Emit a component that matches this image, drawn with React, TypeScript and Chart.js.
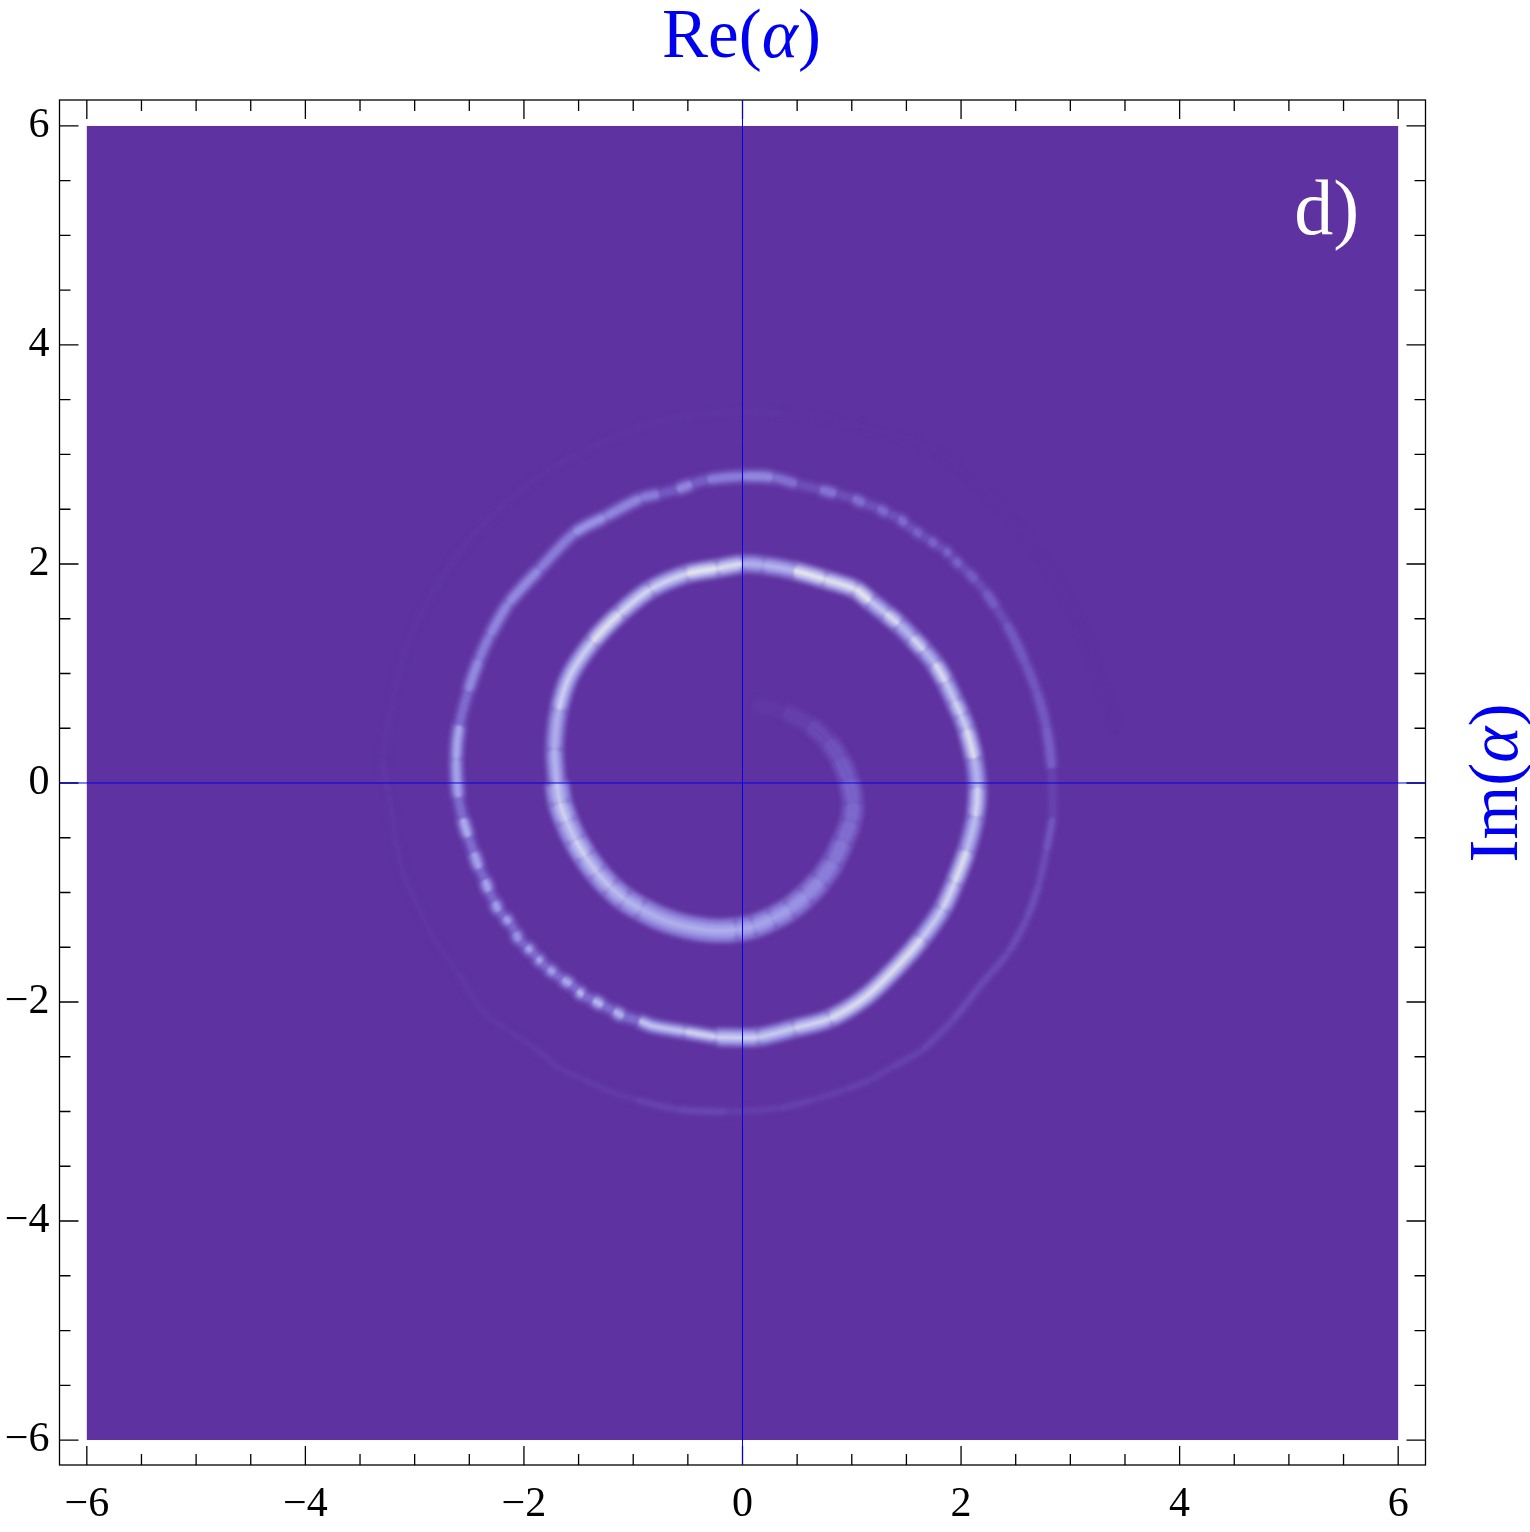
import React, { useEffect, useRef } from "react";
import { Chart, registerables } from "chart.js";

Chart.register(...registerables);

// Tick positions
const axisTicks = [-6, -5.5, -5, -4.5, -4, -3.5, -3, -2.5, -2, -1.5, -1, -0.5, 0, 0.5, 1, 1.5, 2, 2.5, 3, 3.5, 4, 4.5, 5, 5.5, 6];
const labelledTicks = [-6, -4, -2, 0, 2, 4, 6];

// Spiral, turn by turn: x, y, brightness 0..1
const innerX = [0.10, 0.38, 0.61, 0.78, 0.89, 0.97, 1.01, 0.99, 0.92, 0.83, 0.71, 0.58, 0.43, 0.27, 0.10, -0.06, -0.23, -0.42, -0.60, -0.77, -0.93, -1.08, -1.21, -1.33, -1.44, -1.53, -1.61, -1.67, -1.70];
const innerY = [0.71, 0.65, 0.53, 0.38, 0.22, 0.03, -0.18, -0.35, -0.53, -0.72, -0.89, -1.03, -1.15, -1.24, -1.31, -1.34, -1.35, -1.33, -1.29, -1.23, -1.15, -1.06, -0.95, -0.82, -0.67, -0.52, -0.35, -0.18, 0];
const innerL = [0.05, 0.12, 0.2, 0.27, 0.33, 0.38, 0.41, 0.43, 0.47, 0.51, 0.56, 0.6, 0.64, 0.66, 0.68, 0.7, 0.7, 0.7, 0.7, 0.7, 0.72, 0.74, 0.76, 0.78, 0.82, 0.78, 0.82, 0.78, 0.8];

const middleX = [-1.70, -1.72, -1.68, -1.58, -1.37, -1.12, -0.84, -0.51, -0.23, 0, 0.19, 0.47, 0.75, 1.03, 1.17, 1.31, 1.43, 1.55, 1.66, 1.76, 1.86, 1.94, 2.0, 2.05, 2.12, 2.15, 2.13, 2.05, 1.94, 1.83, 1.64, 1.43, 1.13, 0.80, 0.47, 0.14, -0.24];
const middleY = [0, 0.31, 0.67, 0.98, 1.29, 1.55, 1.77, 1.91, 1.96, 2.0, 1.99, 1.94, 1.86, 1.77, 1.66, 1.55, 1.45, 1.33, 1.21, 1.09, 0.92, 0.75, 0.62, 0.49, 0.22, -0.04, -0.31, -0.62, -0.91, -1.15, -1.42, -1.66, -1.95, -2.15, -2.24, -2.32, -2.32];
const middleL = [0.72, 0.7, 0.82, 0.82, 0.92, 0.86, 0.84, 0.95, 0.9, 0.7, 0.72, 0.95, 0.92, 0.95, 0.78, 0.88, 0.72, 0.85, 0.72, 0.88, 0.78, 0.84, 0.8, 0.9, 0.72, 0.85, 0.75, 0.9, 0.85, 0.8, 0.9, 0.9, 0.9, 0.85, 0.8, 0.82, 0.9];

const outerX = [-0.24, -0.53, -0.82, -0.95, -1.09, -1.18, -1.28, -1.37, -1.46, -1.51, -1.57, -1.65, -1.72, -1.78, -1.84, -1.88, -1.93, -1.98, -2.04, -2.08, -2.13, -2.18, -2.23, -2.27, -2.32, -2.36, -2.41, -2.46, -2.51, -2.56, -2.60, -2.62, -2.59, -2.51, -2.41, -2.31, -2.14, -1.86, -1.54, -1.26, -0.93, -0.76, -0.60, -0.46, -0.32, 0, 0.28, 0.5, 0.71, 0.86, 1.01, 1.12, 1.24, 1.33, 1.43, 1.5, 1.57, 1.64, 1.71, 1.78, 1.85, 1.9, 1.94, 2.0, 2.06, 2.14, 2.22, 2.32, 2.41, 2.5, 2.59, 2.69, 2.78, 2.83, 2.84];
const outerY = [-2.32, -2.27, -2.22, -2.17, -2.13, -2.08, -2.03, -1.98, -1.94, -1.89, -1.84, -1.79, -1.74, -1.69, -1.64, -1.59, -1.54, -1.49, -1.44, -1.36, -1.28, -1.22, -1.17, -1.08, -0.99, -0.88, -0.78, -0.63, -0.49, -0.32, -0.13, 0.22, 0.53, 0.84, 1.13, 1.35, 1.64, 1.95, 2.28, 2.43, 2.60, 2.64, 2.68, 2.73, 2.77, 2.80, 2.79, 2.73, 2.68, 2.64, 2.60, 2.55, 2.51, 2.46, 2.42, 2.36, 2.31, 2.26, 2.22, 2.17, 2.13, 2.08, 2.04, 1.98, 1.93, 1.84, 1.75, 1.6, 1.46, 1.29, 1.09, 0.84, 0.51, 0.13, -0.31];
const outerL = [0.85, 0.78, 0.78, 0.42, 0.72, 0.42, 0.74, 0.42, 0.74, 0.42, 0.68, 0.42, 0.64, 0.42, 0.66, 0.42, 0.66, 0.4, 0.6, 0.4, 0.64, 0.4, 0.64, 0.4, 0.66, 0.4, 0.66, 0.42, 0.7, 0.42, 0.66, 0.68, 0.42, 0.56, 0.5, 0.54, 0.56, 0.5, 0.6, 0.54, 0.5, 0.32, 0.54, 0.35, 0.5, 0.55, 0.44, 0.24, 0.46, 0.24, 0.44, 0.26, 0.42, 0.26, 0.42, 0.26, 0.38, 0.24, 0.38, 0.24, 0.38, 0.24, 0.38, 0.24, 0.34, 0.22, 0.34, 0.22, 0.32, 0.32, 0.3, 0.32, 0.36, 0.14, 0.3];

const faintX = [2.84, 2.78, 2.71, 2.60, 2.43, 2.20, 1.92, 1.64, 1.36, 1.17, 0.94, 0.66, 0.33, -0.14, -0.60, -0.98, -1.26, -1.47, -1.68, -1.93, -2.14, -2.37, -2.62, -2.80, -2.98, -3.10, -3.17, -3.24, -3.29, -3.19, -3.03, -2.70, -2.40, -1.86, -1.35, -0.84, -0.32, 0.38, 1.08, 1.78, 2.48, 3.09, 3.41];
const faintY = [-0.31, -0.62, -0.93, -1.24, -1.55, -1.82, -2.17, -2.44, -2.60, -2.71, -2.80, -2.89, -2.97, -3.0, -2.98, -2.89, -2.80, -2.70, -2.60, -2.40, -2.26, -2.09, -1.71, -1.46, -1.11, -0.84, -0.53, -0.09, 0.22, 0.80, 1.37, 1.95, 2.33, 2.80, 3.08, 3.28, 3.37, 3.37, 3.26, 3.02, 2.40, 1.46, 0.49];
const faintL = [0.3, 0.22, 0.24, 0.22, 0.2, 0.2, 0.17, 0.14, 0.12, 0.13, 0.11, 0.13, 0.11, 0.18, 0.14, 0.08, 0.08, 0.07, 0.07, 0.06, 0.05, 0.05, 0.04, 0.04, 0.04, 0.04, 0.04, 0.05, 0.03, 0.03, 0.03, 0.03, 0.03, 0.03, 0.03, 0.03, 0.03, 0.02, 0.015, 0.01, 0.01, 0.005, 0.005];

const PURPLE = "#5E32A0";
const BLUE = "#0000F0";
const SERIF = '"Liberation Serif", serif';

const RAMP: [number, number, number, number][] = [
  [0, 94, 50, 160],
  [0.25, 116, 90, 196],
  [0.5, 155, 150, 230],
  [0.75, 208, 210, 240],
  [1, 246, 240, 226],
];
function ramp(t: number) {
  const v = Math.max(0, Math.min(1, t));
  for (let i = 1; i < RAMP.length; i++) {
    if (v <= RAMP[i][0]) {
      const a = RAMP[i - 1], b = RAMP[i];
      const f = (v - a[0]) / (b[0] - a[0]);
      return `rgb(${a[1] + (b[1] - a[1]) * f},${a[2] + (b[2] - a[2]) * f},${a[3] + (b[3] - a[3]) * f})`;
    }
  }
  return "rgb(246,240,226)";
}

function layers(xs: number[], ys: number[], ls: number[], base: number) {
  const data = xs.map((x, i) => ({ x, y: ys[i] }));
  const spec = [
    { scale: 1, tone: (l: number) => l * 0.62, blur: 2.6, order: 3 },
    { scale: 0.5, tone: (l: number) => l * 0.78, blur: 1.8, order: 2 },
    { scale: 0.16, tone: (l: number) => l * (0.55 + 0.45 * l), blur: 1, order: 1 },
  ];
  return spec.map((s) => ({
    type: "line" as const,
    data,
    order: s.order,
    blurPx: s.blur,
    pointRadius: 0,
    tension: 0.3,
    borderColor: ramp(s.tone(ls[0])),
    borderWidth: base * s.scale,
    borderCapStyle: "butt" as const,
    segment: {
      borderColor: (c: any) => ramp(s.tone(ls[c.p0DataIndex])),
      borderWidth: (c: any) => Math.max(1, base * s.scale * (0.65 + 0.35 * Math.min(1, ls[c.p0DataIndex] * 1.8))),
    },
  }));
}

function drawRun(ctx: CanvasRenderingContext2D, pieces: [string, string][], x: number, y: number, rotate: number) {
  ctx.save();
  ctx.translate(x, y);
  ctx.rotate(rotate);
  ctx.fillStyle = BLUE;
  ctx.textBaseline = "alphabetic";
  ctx.textAlign = "left";
  let w = 0;
  for (const [t, f] of pieces) {
    ctx.font = f;
    w += ctx.measureText(t).width;
  }
  let cx = -w / 2;
  for (const [t, f] of pieces) {
    ctx.font = f;
    ctx.fillText(t, cx, 0);
    cx += ctx.measureText(t).width;
  }
  ctx.restore();
}

const framePlugin = {
  id: "frame",
  beforeDatasetsDraw(chart: any) {
    const { ctx, scales } = chart;
    const x = scales.x, y = scales.y;
    ctx.save();
    ctx.fillStyle = PURPLE;
    const l = x.getPixelForValue(-6), r = x.getPixelForValue(6);
    const t = y.getPixelForValue(6), b = y.getPixelForValue(-6);
    ctx.fillRect(l, t, r - l, b - t);
    ctx.restore();
  },
  beforeDatasetDraw(chart: any, args: any) {
    const blur = chart.data.datasets[args.index].blurPx;
    chart.ctx.save();
    if (blur) chart.ctx.filter = `blur(${blur}px)`;
  },
  afterDatasetDraw(chart: any) {
    chart.ctx.restore();
  },
  afterDatasetsDraw(chart: any) {
    const { ctx, scales, chartArea: a } = chart;
    const x = scales.x, y = scales.y;
    ctx.save();
    // frame and inward ticks
    ctx.strokeStyle = "#000";
    ctx.lineWidth = 1.3;
    ctx.strokeRect(a.left, a.top, a.right - a.left, a.bottom - a.top);
    ctx.beginPath();
    for (const v of axisTicks) {
      const len = labelledTicks.includes(v) ? 19 : 11;
      const px = x.getPixelForValue(v), py = y.getPixelForValue(v);
      ctx.moveTo(px, a.bottom); ctx.lineTo(px, a.bottom - len);
      ctx.moveTo(px, a.top); ctx.lineTo(px, a.top + len);
      ctx.moveTo(a.left, py); ctx.lineTo(a.left + len, py);
      ctx.moveTo(a.right, py); ctx.lineTo(a.right - len, py);
    }
    ctx.stroke();
    // blue axes
    ctx.strokeStyle = BLUE;
    ctx.lineWidth = 1;
    ctx.beginPath();
    ctx.moveTo(x.getPixelForValue(0), a.top);
    ctx.lineTo(x.getPixelForValue(0), a.bottom);
    ctx.moveTo(a.left, y.getPixelForValue(0));
    ctx.lineTo(a.right, y.getPixelForValue(0));
    ctx.stroke();
    // panel letter
    ctx.fillStyle = "#fff";
    ctx.font = `78px ${SERIF}`;
    ctx.textAlign = "left";
    ctx.textBaseline = "alphabetic";
    ctx.fillText("d)", x.getPixelForValue(5.05), y.getPixelForValue(5.01));
    // axis titles
    const t = 69;
    drawRun(ctx, [["Re(", `${t}px ${SERIF}`], ["α", `italic ${t}px ${SERIF}`], [")", `${t}px ${SERIF}`]], x.getPixelForValue(0) - 1, 57, 0);
    drawRun(ctx, [["Im(", `${t}px ${SERIF}`], ["α", `italic ${t}px ${SERIF}`], [")", `${t}px ${SERIF}`]], 1517, y.getPixelForValue(0), -Math.PI / 2);
    ctx.restore();
  },
};

function axis(position: "bottom" | "left", fit: number, min: number, max: number) {
  return {
    type: "linear" as const,
    position,
    min,
    max,
    afterBuildTicks: (s: any) => {
      s.ticks = axisTicks.map((value) => ({ value }));
    },
    afterFit: (s: any) => {
      if (position === "left") s.width = fit;
      else s.height = fit;
    },
    grid: { display: false, drawTicks: false },
    border: { display: false },
    ticks: {
      autoSkip: false,
      maxRotation: 0,
      padding: position === "left" ? 10 : 15,
      color: "#000",
      font: { family: SERIF, size: 42 },
      callback: (v: any) => (labelledTicks.includes(v) ? String(v).replace("-", "\u2212") : ""),
    },
  };
}

export default function App() {
  const ref = useRef<HTMLCanvasElement>(null);
  useEffect(() => {
    const chart = new Chart(ref.current!, {
      type: "line",
      data: {
        datasets: [
          ...layers(innerX, innerY, innerL, 23),
          ...layers(middleX, middleY, middleL, 17),
          ...layers(outerX, outerY, outerL, 13),
          ...layers(faintX, faintY, faintL, 10),
        ] as any,
      },
      options: {
        animation: false,
        responsive: false,
        devicePixelRatio: 1,
        parsing: false,
        layout: { padding: { top: 100, right: 104.5, left: 0, bottom: 0 } },
        plugins: { legend: { display: false }, tooltip: { enabled: false }, title: { display: false } },
        scales: { x: axis("bottom", 67, -6.25, 6.25), y: axis("left", 59.5, -6.228, 6.237) },
      } as any,
      plugins: [framePlugin],
    });
    return () => chart.destroy();
  }, []);
  return (
    <div style={{ position: "absolute", left: 0, top: 0, width: 1530, height: 1532, background: "#fff" }}>
      <canvas ref={ref} width={1530} height={1532} style={{ display: "block" }} />
    </div>
  );
}
